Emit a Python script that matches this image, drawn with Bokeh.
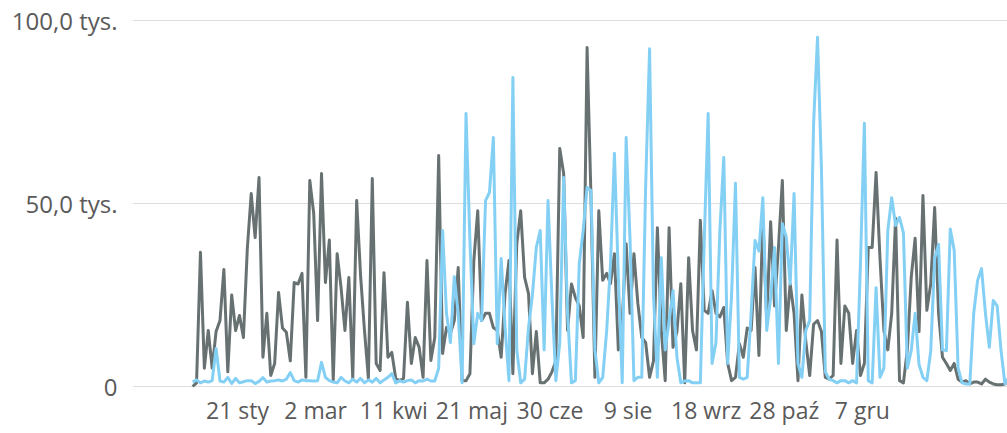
import pandas as pd
from datetime import datetime, timedelta
from bokeh.plotting import figure
from bokeh.models import Range1d, FixedTicker
from bokeh.embed import file_html
from bokeh.resources import INLINE

# ---- data (values in thousands, one sample every 2 days) ----
start_date = "2018-12-29"
gray_k = [
    0, 1, 36.7, 5, 15.3, 5, 15, 18, 32, 4,
    25, 15.3, 19.4, 13.4, 37.7, 52.7, 40.7, 57.1, 8, 20,
    3, 6.3, 25.7, 16, 14.8, 7, 28.4, 28, 30.9, 2.5,
    56.3, 47.3, 18, 58.2, 28.4, 40, 1.6, 36.3, 27, 15.3,
    29.8, 2.2, 50.8, 30.3, 15.3, 2.2, 56.8, 6.3, 4.4, 31.1,
    8, 9.3, 2.2, 1.6, 2.2, 23, 6.3, 13.4, 10.7, 2.5,
    34.4, 7.1, 13.4, 63.1, 9, 16.1, 14.5, 18, 32.5, 1.6,
    1.6, 3.5, 34.4, 48, 18, 20, 20, 16.1, 15.3, 8,
    25.4, 34.4, 3.5, 39, 48, 29.8, 25.4, 3.5, 15, 1,
    1, 2, 4, 7, 65, 58.2, 15.3, 28, 24.3, 22,
    13.4, 92.6, 51.6, 2.5, 48, 29, 30.9, 28.1, 36.3, 10,
    18, 39, 20, 36.3, 22.7, 13.4, 12, 2.5, 7, 43.4,
    15.3, 1.6, 43.4, 10.7, 15, 28.1, 1, 35.2, 15.3, 10,
    45.4, 20.8, 20, 26.2, 20, 19, 21.6, 6.3, 1.6, 2.5,
    11.7, 8, 16, 15.3, 32.5, 8.5, 46.2, 18, 45, 22,
    38, 56.3, 15.3, 28.1, 19.9, 1.6, 25, 12.4, 3, 17,
    18, 15, 2.5, 2, 3, 40, 6.3, 22, 20, 6.3,
    15.3, 3, 6.3, 38, 38, 58.5, 35, 15.3, 10, 20,
    46, 1.6, 1, 10, 29.8, 40.5, 15, 52.2, 20.8, 28.1,
    48.9, 20, 8, 6.3, 4.4, 6.3, 2, 1.2, 1.6, 0.7,
    1.2, 1.2, 0.7, 2, 1.2, 0.7, 0.5, 0.5, 0.7, 1.6,
]
blue_k = [
    1.2, 1.8, 1.0, 1.5, 1.2, 1.6, 10.4, 1.5, 1.2, 2.5,
    0.8, 2.2, 1.0, 1.3, 1.6, 1.6, 0.8, 1.4, 2.4, 1.2,
    1.5, 1.6, 1.8, 1.5, 2, 3.8, 1.6, 1.2, 1.8, 1.6,
    1.6, 1.5, 1.6, 6.6, 2.5, 1.6, 1.2, 1.0, 2.5, 1.5,
    1.0, 2.0, 1.2, 2.2, 1.0, 1.8, 1.2, 2.2, 1.0, 1.8,
    2.5, 3.5, 1.0, 1.6, 1.2, 1.6, 1.8, 1.0, 1.6, 1.5,
    2, 1.5, 1.5, 5, 42.6, 20, 12, 30, 20, 1,
    74.6, 40, 11.7, 20, 18, 50.8, 53, 68, 11.7, 35,
    16, 1.6, 84.4, 10, 1, 2, 16, 25, 38, 42.6,
    10, 50.8, 24.3, 1.6, 12, 57.1, 20, 1, 1.6, 33.6,
    42.6, 54.4, 53.5, 10, 1, 2.5, 15, 33.6, 63.7, 30,
    1, 68, 40, 1.6, 2.5, 2.5, 55, 92.3, 25, 2.5,
    35.2, 10, 18, 26.2, 8, 1, 1.5, 1.6, 1, 1,
    1, 40, 74.6, 6.3, 12, 42.6, 62.6, 6.3, 25, 55.5,
    2.5, 2, 2.5, 20, 39.9, 37, 51.6, 15.3, 24.3, 38,
    6.3, 44.5, 40.8, 28, 52.7, 6.3, 2.5, 15.3, 18, 71.9,
    95.4, 60, 4, 2, 1.6, 1, 1.6, 1.6, 1, 1.6,
    1, 33.6, 71.9, 1.6, 1, 27, 2.5, 5, 42.6, 51.6,
    44, 46.2, 42, 5, 9.8, 20, 6, 2.5, 1.6, 9.8,
    35, 38.8, 10, 9.8, 43, 37.2, 5, 1, 0.7, 0.7,
    20, 29, 32.2, 20, 10.7, 23.5, 22, 9.8, 0.7, 2.5,
]
tick_dates = ["2019-01-21", "2019-03-02", "2019-04-11", "2019-05-21", "2019-06-30",
              "2019-08-09", "2019-09-18", "2019-10-28", "2019-12-07"]
tick_labels = ["21 sty", "2 mar", "11 kwi", "21 maj", "30 cze",
               "9 sie", "18 wrz", "28 paź", "7 gru"]
y_ticks = [0, 50000, 100000]
y_labels = ["0", "50,0 tys.", "100,0 tys."]

dates = pd.date_range(start_date, periods=len(gray_k), freq="2D")
gray = [v * 1000 for v in gray_k]
blue = [v * 1000 for v in blue_k]

t0 = datetime(2019, 1, 21)
x_start = t0 - timedelta(days=53.8)
x_end = t0 + timedelta(days=394.3)

FONT = "Open Sans"
TXT = "#5a5a5a"

p = figure(width=1007, height=433, x_axis_type="datetime",
           x_range=Range1d(x_start, x_end), y_range=Range1d(-1093, 102186),
           output_backend="svg", toolbar_location=None,
           min_border_left=132, min_border_right=0, min_border_top=12, min_border_bottom=43)
p.outline_line_color = None
p.background_fill_color = "white"
p.border_fill_color = "white"
p.xgrid.visible = False
p.ygrid.grid_line_color = "#DEDEDE"
p.ygrid.grid_line_width = 1

p.line(dates, gray, line_color="#687172", line_width=3, line_join="round")
p.line(dates, blue, line_color="#84D0F5", line_width=3, line_join="round")

p.yaxis.ticker = FixedTicker(ticks=y_ticks)
p.yaxis.major_label_overrides = dict(zip(y_ticks, y_labels))
tick_ms = [pd.Timestamp(d).value / 1e6 for d in tick_dates]
p.xaxis.ticker = FixedTicker(ticks=tick_ms, minor_ticks=[])
p.xaxis.major_label_overrides = dict(zip(tick_ms, tick_labels))

for ax in (p.xaxis[0], p.yaxis[0]):
    ax.axis_line_color = None
    ax.major_tick_line_color = None
    ax.minor_tick_line_color = None
    ax.major_tick_out = 0
    ax.major_tick_in = 0
    ax.minor_tick_out = 0
    ax.major_label_text_font = FONT
    ax.major_label_text_font_size = "24px"
    ax.major_label_text_color = TXT
p.xaxis.major_label_text_font_size = "23px"
p.yaxis.major_label_standoff = 15
p.xaxis.major_label_standoff = 3

open("out.html", "w").write(file_html(p, INLINE))
